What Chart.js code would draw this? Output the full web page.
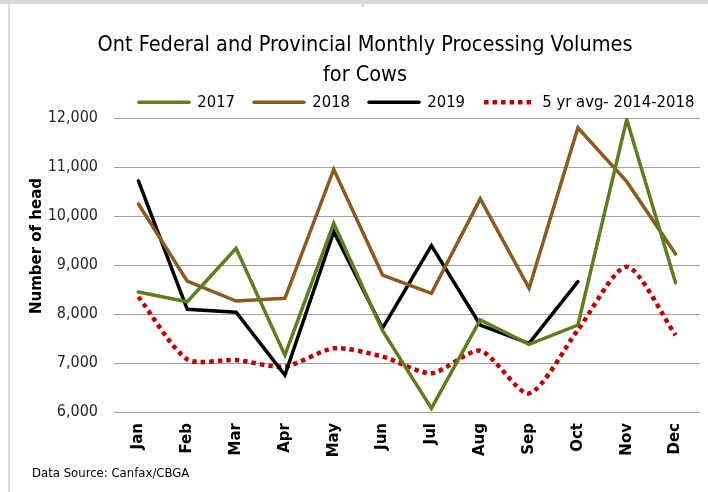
<!DOCTYPE html>
<html>
<head>
<meta charset="utf-8">
<script src="https://cdn.jsdelivr.net/npm/chart.js@4"></script>
<style>
  body { margin: 0; background: #fff; }
  #wrap { position: relative; width: 708px; height: 492px; overflow: hidden; }
  .edge { position: absolute; background: #d9d9d9; }
  canvas { position: absolute; left: 0; top: 0; }
</style>
</head>
<body>
<div id="wrap">
  <div class="edge" style="left:0;top:0;width:708px;height:4px"></div>
  <div class="edge" style="left:362px;top:0;width:2px;height:7px"></div>
  <div class="edge" style="left:8px;top:4px;width:2px;height:488px"></div>
  <canvas id="cows" width="708" height="492"></canvas>
</div>
<script>
const narrow = "'Liberation Sans Narrow', 'DejaVu Sans Condensed', 'Liberation Sans', sans-serif";
const wide = "'DejaVu Sans', Verdana, sans-serif";

const months = ['Jan', 'Feb', 'Mar', 'Apr', 'May', 'Jun', 'Jul', 'Aug', 'Sep', 'Oct', 'Nov', 'Dec'];
const vol2017 = [8450, 8250, 9340, 7160, 9850, 7660, 6075, 7880, 7380, 7775, 11970, 8640];
const vol2018 = [10245, 8670, 8265, 8320, 10950, 8795, 8420, 10350, 8525, 11800, 10700, 9225];
const vol2019 = [10715, 8095, 8035, 6755, 9680, 7710, 9395, 7775, 7400, 8660, null, null];
const avg5yr = [8350, 7075, 7060, 6925, 7300, 7130, 6790, 7250, 6380, 7675, 8965, 7570];
const yTicks = [6000, 7000, 8000, 9000, 10000, 11000, 12000];

const chartColors = {
  y2017: '#5e7e1e',
  y2018: '#8b5a1e',
  y2019: '#000000',
  avg: '#c00000'
};

// move legend + title to where the excel chart has them
const placeBlocks = {
  id: 'placeBlocks',
  afterLayout(chart) {
    const lg = chart.legend;
    const pad = lg.options.labels.padding;
    lg.left = 139 - pad;
    lg.right = 1000;
    lg.top = 102 - pad - 8;
    lg.bottom = lg.top + 70;
    const t = chart.titleBlock;
    t.left += 15;
    t.right += 15;
  }
};

const extraText = {
  id: 'extraText',
  afterDraw(chart) {
    const ctx = chart.ctx;
    ctx.save();
    ctx.fillStyle = '#000';
    ctx.font = 'bold 15px ' + wide;
    ctx.textAlign = 'center';
    ctx.textBaseline = 'middle';
    ctx.translate(37, 246);
    ctx.rotate(-Math.PI / 2);
    ctx.fillText('Number of head', 0, 0);
    ctx.restore();

    ctx.save();
    ctx.fillStyle = '#000';
    ctx.font = '13px ' + narrow;
    ctx.textAlign = 'left';
    ctx.textBaseline = 'middle';
    ctx.fillText('Data Source: Canfax/CBGA', 32, 474);
    ctx.restore();
  }
};

function lineSet(label, data, color) {
  return {
    label: label,
    data: data,
    borderColor: color,
    backgroundColor: color,
    borderWidth: 3.5,
    borderCapStyle: 'round',
    pointRadius: 0,
    tension: 0,
    spanGaps: false
  };
}

const avgDash = [4.5, 4];

const avgSet = {
  label: '5 yr avg- 2014-2018',
  data: avg5yr,
  borderColor: chartColors.avg,
  backgroundColor: chartColors.avg,
  borderWidth: 4.5,
  borderDash: avgDash,
  pointRadius: 0,
  tension: 0.25
};

new Chart(document.getElementById('cows'), {
  type: 'line',
  data: {
    labels: months,
    datasets: [
      lineSet('2017', vol2017, chartColors.y2017),
      lineSet('2018', vol2018, chartColors.y2018),
      lineSet('2019', vol2019, chartColors.y2019),
      avgSet
    ]
  },
  options: {
    responsive: false,
    animation: false,
    devicePixelRatio: 1,
    layout: { padding: { left: 0, right: 8, top: 0, bottom: 0 } },
    plugins: {
      title: {
        display: true,
        text: ['Ont Federal and Provincial Monthly Processing Volumes', 'for Cows'],
        color: '#000',
        font: { family: narrow, size: 21.5, weight: 'normal', lineHeight: 30 / 21.5 },
        padding: { top: 30, bottom: 0 }
      },
      legend: {
        display: true,
        align: 'start',
        maxHeight: 28,
        labels: {
          usePointStyle: true,
          pointStyle: 'line',
          pointStyleWidth: 50,
          padding: 19,
          color: '#000',
          font: { family: narrow, size: 16.5 },
          generateLabels(chart) {
            const items = Chart.defaults.plugins.legend.labels.generateLabels(chart);
            items.forEach((item) => {
              const ds = chart.data.datasets[item.datasetIndex];
              item.lineDash = ds.borderDash || [];
              item.lineWidth = ds.borderWidth;
              item.lineCap = ds.borderDash ? 'butt' : 'round';
            });
            return items;
          }
        }
      },
      tooltip: { enabled: false }
    },
    scales: {
      x: {
        offset: true,
        grid: { display: false, drawTicks: false },
        border: { display: false },
        ticks: {
          minRotation: 90,
          maxRotation: 90,
          padding: 11,
          color: '#000',
          font: { family: wide, size: 15, weight: 'bold' }
        },
        afterFit(scale) { scale.height = 80; }
      },
      y: {
        min: 6000,
        max: 12000,
        afterBuildTicks(scale) { scale.ticks = yTicks.map(v => ({ value: v })); },
        grid: { color: '#a0a0a0', lineWidth: 1, drawTicks: false },
        border: { display: false },
        ticks: {
          padding: 16,
          color: '#262626',
          font: { family: narrow, size: 16 },
          callback: v => v.toLocaleString('en-US')
        },
        afterFit(scale) { scale.width = 114; }
      }
    }
  },
  plugins: [placeBlocks, extraText]
});
</script>
</body>
</html>
